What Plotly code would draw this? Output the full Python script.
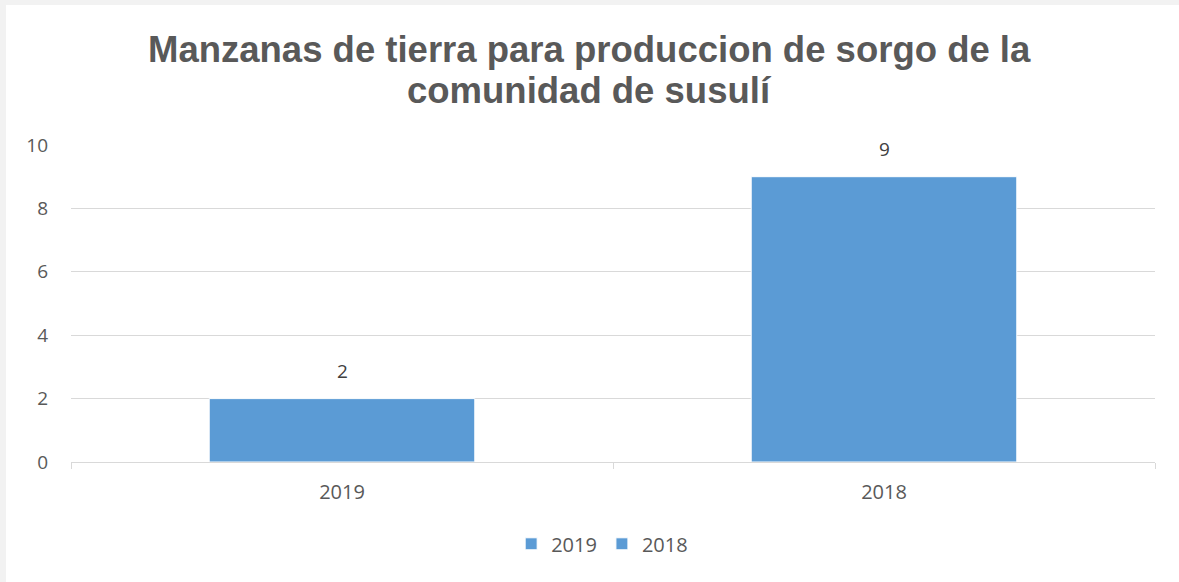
import plotly.graph_objects as go

categories = ['2019', '2018']
values = [2, 9]
y_ticks = [0, 2, 4, 6, 8, 10]

title_lines = ['Manzanas de tierra para produccion de sorgo de la', 'comunidad de susulí']
bar_color = '#5b9bd5'
text_color = '#595959'
grid_color = '#d9d9d9'

# plot area in pixels (page is 1179 x 582)
L, R, T, B = 71, 24, 145, 120
PW, PH = 1179 - L - R, 582 - T - B


def px_x(p):
    return (p - L) / PW


def px_y(p):
    return (582 - B - p) / PH


fig = go.Figure()
for i, (cat, val) in enumerate(zip(categories, values)):
    fig.add_trace(go.Bar(
        x=[cat], y=[val], name=cat,
        marker=dict(color=bar_color, line=dict(color='white', width=1)),
        width=0.49,
    ))
    fig.add_annotation(xref='x', yref='y', x=i, y=val, text=str(val), showarrow=False,
                       yanchor='bottom', yshift=13,
                       font=dict(size=19, color='#404040'))

for i, line in enumerate(title_lines):
    fig.add_annotation(xref='paper', yref='paper', x=px_x(589.5), y=px_y([49, 90][i]),
                       text='<b>%s</b>' % line, showarrow=False,
                       xanchor='center', yanchor='middle',
                       font=dict(family='Liberation Sans', size=36.5, color=text_color))

fig.update_layout(
    width=1179, height=582,
    margin=dict(l=L, r=R, t=T, b=B),
    paper_bgcolor='white', plot_bgcolor='white',
    font=dict(family='Open Sans', color=text_color),
    barmode='overlay',
    legend=dict(orientation='h', x=0.49, xanchor='center', y=-0.258, yanchor='middle',
                font=dict(size=20, color=text_color), itemwidth=30),
    showlegend=True,
)
fig.update_xaxes(
    type='category', categoryorder='array', categoryarray=categories,
    range=[-0.5, 1.5],
    showline=True, linecolor=grid_color, linewidth=1,
    ticks='outside', tickson='boundaries', ticklen=6, tickcolor=grid_color,
    ticklabelstandoff=12,
    tickfont=dict(size=20, color=text_color), showgrid=False,
)
fig.update_yaxes(
    range=[0, 10], tickvals=y_ticks, showgrid=True, gridcolor=grid_color,
    zeroline=False, showline=False, ticks='', ticklabelstandoff=22,
    tickfont=dict(size=19, color=text_color),
)
# light grey frame on the left and top edges
fig.add_shape(type='rect', xref='paper', yref='paper', layer='below',
              x0=px_x(0), x1=px_x(6), y0=px_y(582), y1=px_y(0),
              fillcolor='#f2f2f2', line_width=0)
fig.add_shape(type='rect', xref='paper', yref='paper', layer='below',
              x0=px_x(0), x1=px_x(1179), y0=px_y(5), y1=px_y(0),
              fillcolor='#f2f2f2', line_width=0)

fig.write_html('out.html', config={'displayModeBar': False},
               post_script="document.body.style.margin='0';")
